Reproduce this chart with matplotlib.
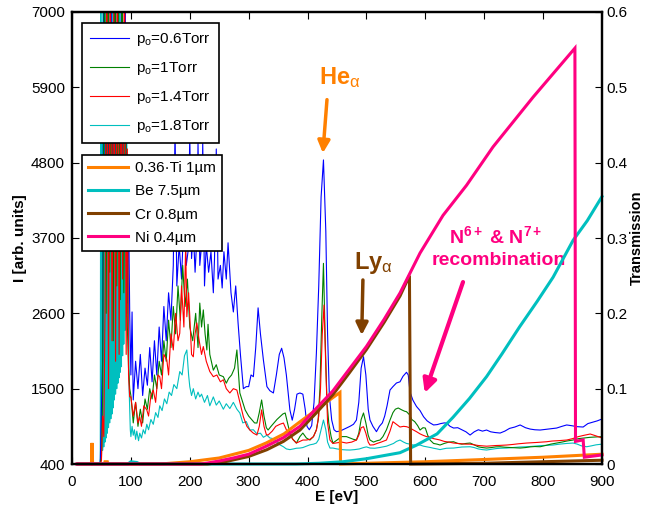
import numpy as np
import matplotlib
matplotlib.use('Agg')
import matplotlib.pyplot as plt
from matplotlib.lines import Line2D

plt.rcParams['font.family'] = ['Liberation Sans', 'DejaVu Sans']
plt.rcParams['mathtext.fontset'] = 'custom'
plt.rcParams['mathtext.rm'] = 'Liberation Sans'
plt.rcParams['mathtext.it'] = 'Liberation Sans:italic'
plt.rcParams['mathtext.bf'] = 'Liberation Sans:bold'

# spectra (E [eV], I [arb. units]); 8000 = off scale
spec_06 = [(44, 400), (48, 400), (50, 1200), (52, 1900), (54, 8000), (57, 3500), (60, 8000), (63, 4000),
           (66, 8000), (69, 3800), (72, 8000), (75, 4600), (78, 8000), (81, 3900), (84, 7500), (87, 4300),
           (90, 8000), (93, 2600), (96, 4200), (98, 2600), (100, 1700), (102, 2620), (104, 1335), (108, 1900),
           (112, 1500), (116, 2000), (120, 1400), (124, 1800), (128, 1550), (132, 2100), (136, 1600), (140, 2200),
           (144, 1700), (148, 2400), (152, 1900), (156, 2700), (160, 2200), (164, 2900), (168, 2500), (172, 3300),
           (175, 5300), (178, 3000), (182, 3600), (186, 3100), (190, 4000), (194, 3300), (197, 3500), (200, 5200),
           (203, 3400), (206, 3800), (209, 3200), (212, 3700), (214, 5100), (217, 3300), (220, 3600), (222, 5100),
           (225, 3000), (228, 3600), (232, 3200), (236, 3500), (240, 2900), (242, 3400), (245, 5000), (248, 3100),
           (252, 3300), (255, 2970), (258, 3500), (262, 3100), (265, 3630), (270, 2900), (274, 2620), (278, 3000),
           (282, 2460), (286, 2000), (291, 1500), (296, 1530), (300, 1530), (304, 1700), (308, 1675), (312, 2100),
           (316, 2680), (320, 2300), (325, 1920), (331, 1530), (336, 1470), (342, 1437), (347, 1700), (352, 2000),
           (356, 2090), (360, 1950), (364, 1700), (367, 1450), (370, 1190), (374, 1040), (378, 1200), (382, 1420),
           (387, 1437), (392, 1420), (396, 1200), (399, 950), (403, 900), (407, 960), (411, 1300), (415, 2020),
           (419, 3000), (423, 4300), (427, 4840), (431, 3800), (434, 2300), (437, 1400), (441, 1042), (445, 900),
           (449, 872), (455, 880), (460, 900), (466, 925), (472, 950), (478, 980), (483, 1042), (487, 1300),
           (491, 1800), (495, 1967), (499, 1700), (503, 1200), (506, 1042), (511, 950), (517, 872), (522, 950),
           (527, 1000), (531, 1100), (535, 1250), (540, 1480), (545, 1530), (551, 1583), (557, 1600), (562, 1680),
           (568, 1739), (571, 1700), (574, 1450), (579, 1330), (585, 1240), (591, 1180), (597, 1090), (603, 1030),
           (608, 1000), (614, 970), (620, 975), (626, 990), (632, 1000), (636, 998), (642, 950), (648, 925),
           (655, 930), (662, 900), (669, 870), (676, 823), (683, 870), (690, 900), (697, 880), (704, 896),
           (711, 870), (718, 860), (727, 852), (735, 880), (743, 920), (752, 940), (761, 970), (770, 930),
           (778, 910), (786, 900), (795, 896), (804, 905), (813, 915), (823, 925), (832, 950), (840, 970),
           (848, 960), (858, 945), (868, 940), (876, 990), (884, 1010), (892, 1030), (900, 1057)]

spec_10 = [(44, 400), (48, 400), (50, 500), (52, 1400), (55, 8000), (58, 2600), (61, 8000), (64, 3200),
           (67, 6500), (70, 2200), (73, 8000), (76, 3000), (79, 7000), (82, 2800), (85, 8000), (88, 2900),
           (91, 6000), (94, 2400), (96, 1800), (98, 1500), (100, 1400), (104, 1000), (108, 1300), (112, 950),
           (116, 1200), (120, 1000), (124, 1350), (128, 1200), (132, 1500), (136, 1350), (140, 1700), (144, 1500),
           (148, 1900), (152, 1700), (156, 2200), (160, 1900), (164, 2500), (168, 2100), (172, 2700), (176, 2300),
           (180, 3000), (184, 2500), (188, 3300), (192, 2700), (196, 3100), (200, 2400), (205, 2200), (210, 2600),
           (214, 2100), (217, 2750), (220, 2400), (223, 2650), (226, 2300), (229, 2065), (231, 2440), (234, 2000),
           (240, 1770), (245, 1850), (250, 1700), (257, 1675), (262, 1580), (266, 1650), (271, 1700), (276, 1800),
           (280, 2065), (285, 1437), (290, 1300), (294, 1190), (300, 1100), (305, 1050), (310, 1000), (314, 998),
           (318, 1150), (322, 1335), (326, 1100), (330, 930), (333, 896), (338, 950), (343, 1000), (348, 1050),
           (353, 1090), (358, 1130), (362, 1145), (366, 1000), (370, 852), (375, 760), (381, 706), (387, 800),
           (392, 852), (398, 780), (404, 750), (410, 800), (415, 900), (418, 1042), (421, 1500), (424, 2500),
           (427, 3330), (430, 2200), (433, 1300), (436, 1000), (440, 800), (443, 706), (450, 750), (458, 800),
           (466, 800), (472, 780), (478, 760), (483, 750), (487, 850), (491, 1050), (495, 1145), (499, 1000),
           (503, 820), (506, 750), (512, 720), (518, 740), (523, 750), (528, 800), (534, 900), (540, 1042),
           (545, 1150), (549, 1200), (554, 1218), (560, 1190), (565, 1170), (568, 1164), (573, 1120), (577, 1050),
           (582, 1018), (587, 960), (591, 896), (596, 930), (600, 925), (604, 820), (608, 750), (614, 700),
           (620, 690), (625, 677), (632, 700), (640, 720), (648, 725), (655, 700), (662, 690), (669, 700),
           (676, 706), (683, 680), (690, 650), (697, 640), (704, 633), (712, 640), (720, 650), (727, 652),
           (735, 645), (745, 640), (752, 635), (761, 633), (770, 640), (778, 650), (786, 655), (795, 652),
           (804, 670), (813, 690), (823, 706), (832, 720), (840, 735), (851, 750), (860, 770), (870, 780),
           (880, 790), (890, 795), (900, 800)]

spec_14 = [(44, 400), (48, 400), (50, 450), (52, 1100), (54, 800), (56, 2600), (59, 8000), (62, 1500),
           (65, 8000), (68, 2200), (71, 7000), (74, 1900), (77, 8000), (80, 2000), (83, 6500), (86, 3100),
           (89, 8000), (92, 2000), (94, 5000), (96, 1700), (98, 1380), (100, 1380), (104, 1100), (108, 1300),
           (112, 1000), (115, 1090), (118, 950), (122, 1250), (127, 1190), (130, 1100), (134, 1400), (138, 1480),
           (142, 1300), (146, 1700), (149, 1675), (152, 1500), (156, 2000), (161, 1920), (164, 1700), (168, 2300),
           (172, 2065), (176, 2600), (180, 2200), (183, 2310), (186, 3000), (190, 2400), (193, 3600), (195, 2550),
           (198, 2900), (200, 2560), (203, 2000), (206, 1965), (209, 2300), (212, 2460), (216, 2200), (220, 2000),
           (223, 2115), (228, 1900), (234, 1750), (240, 1675), (246, 1700), (252, 1600), (257, 1630), (262, 1500),
           (268, 1437), (274, 1500), (280, 1480), (285, 1300), (291, 1090), (297, 950), (302, 896), (308, 850),
           (314, 823), (318, 950), (322, 1190), (326, 950), (330, 830), (333, 823), (340, 880), (346, 950),
           (353, 980), (359, 998), (364, 900), (370, 823), (375, 760), (381, 706), (387, 730), (392, 750),
           (398, 750), (404, 760), (410, 800), (415, 896), (419, 1100), (422, 1500), (425, 2300), (428, 2721),
           (431, 1800), (434, 1000), (438, 750), (443, 700), (450, 710), (458, 720), (466, 706), (475, 720),
           (483, 750), (487, 820), (491, 930), (495, 945), (499, 850), (503, 720), (506, 677), (512, 680),
           (518, 700), (525, 720), (534, 750), (540, 880), (545, 1018), (551, 980), (557, 940), (563, 950),
           (568, 945), (573, 930), (579, 900), (585, 872), (591, 840), (596, 820), (602, 800), (608, 790),
           (614, 770), (620, 760), (625, 750), (632, 730), (640, 720), (648, 706), (655, 700), (662, 695),
           (669, 690), (676, 690), (683, 680), (690, 670), (697, 665), (704, 660), (712, 665), (720, 670),
           (727, 672), (738, 677), (748, 685), (758, 695), (772, 706), (780, 710), (790, 715), (806, 725),
           (815, 735), (825, 740), (840, 750), (850, 770), (860, 800), (870, 820), (880, 838), (890, 810),
           (900, 780)]

spec_18 = [(44, 400), (47, 400), (48, 480), (49, 8000), (50, 550), (51, 6000), (52, 600), (53, 8000),
           (54, 650), (55, 7000), (56, 720), (57, 8000), (58, 780), (59, 5500), (60, 850), (61, 8000),
           (62, 930), (63, 6500), (64, 1000), (65, 8000), (66, 1060), (67, 7200), (68, 1130), (69, 8000),
           (70, 1220), (71, 5000), (72, 1335), (73, 8000), (74, 1420), (75, 6000), (76, 1500), (77, 8000),
           (78, 1580), (79, 4500), (80, 1660), (81, 8000), (82, 1740), (83, 5200), (84, 1820), (85, 7500),
           (86, 1980), (87, 4800), (88, 2150), (89, 6500), (90, 2350), (91, 4200), (92, 2550), (93, 5500),
           (94, 2750), (95, 3800), (96, 2900), (97, 1500), (99, 900), (100, 800), (102, 950), (104, 820),
           (106, 900), (108, 760), (110, 880), (113, 740), (115, 850), (118, 780), (121, 900), (124, 840),
           (127, 980), (130, 900), (134, 1050), (138, 980), (142, 1150), (146, 1080), (149, 1250), (153, 1180),
           (157, 1350), (161, 1280), (165, 1450), (169, 1400), (173, 1560), (178, 1500), (183, 1750), (187, 1700),
           (191, 1980), (195, 2065), (198, 1700), (200, 1530), (203, 1400), (206, 1500), (210, 1350), (214, 1450),
           (217, 1380), (220, 1420), (225, 1300), (230, 1400), (234, 1250), (240, 1380), (245, 1260), (250, 1320),
           (257, 1200), (262, 1280), (268, 1210), (274, 1300), (280, 1200), (285, 1145), (290, 1000), (296, 1020),
           (302, 896), (308, 900), (314, 840), (320, 850), (325, 790), (331, 820), (336, 780), (342, 770),
           (348, 720), (353, 680), (359, 652), (364, 620), (370, 610), (376, 620), (381, 630), (387, 633),
           (392, 640), (398, 660), (404, 680), (410, 690), (415, 706), (419, 760), (423, 900), (427, 1042),
           (431, 900), (434, 720), (438, 633), (443, 633), (450, 620), (458, 610), (466, 605), (472, 604),
           (480, 610), (488, 620), (495, 640), (500, 650), (506, 633), (514, 630), (522, 640), (528, 650),
           (534, 660), (540, 680), (546, 700), (551, 730), (557, 750), (563, 720), (568, 700), (574, 690),
           (579, 677), (585, 680), (591, 677), (597, 660), (603, 650), (609, 640), (614, 630), (620, 620),
           (625, 610), (630, 620), (636, 630), (642, 632), (648, 633), (655, 640), (662, 648), (669, 650),
           (676, 652), (683, 640), (690, 620), (697, 610), (704, 604), (712, 615), (720, 625), (727, 630),
           (738, 633), (748, 640), (760, 648), (772, 652), (785, 660), (795, 668), (805, 672), (817, 677),
           (828, 690), (840, 700), (851, 706), (858, 690), (865, 665), (874, 652), (882, 665), (890, 680),
           (900, 690)]

# filter transmission curves (E [eV], T)
trans_ti = [(10, 0), (33, 0), (34, 0.028), (35, 0), (55, 0), (56, 0.003), (60, 0.003), (61, 0),
            (150, 0), (200, 0.003), (250, 0.008), (300, 0.018), (330, 0.028), (360, 0.040), (387, 0.056),
            (420, 0.075), (455, 0.095), (456, 0), (500, 0.001), (600, 0.003), (700, 0.006), (800, 0.009),
            (900, 0.013)]
trans_be = [(10, 0), (95, 0), (100, 0.003), (110, 0.002), (115, 0), (380, 0), (420, 0.001), (460, 0.003),
            (500, 0.007), (557, 0.015), (585, 0.025), (620, 0.04), (647, 0.062), (675, 0.087), (704, 0.116),
            (730, 0.146), (760, 0.182), (790, 0.216), (817, 0.248), (851, 0.297), (875, 0.323), (900, 0.355)]
trans_cr = [(10, 0), (230, 0), (260, 0.003), (300, 0.010), (331, 0.019), (359, 0.030), (387, 0.045),
            (415, 0.068), (443, 0.092), (470, 0.12), (500, 0.152), (530, 0.188), (557, 0.223), (573, 0.25),
            (575, 0), (700, 0.001), (800, 0.003), (900, 0.005)]
trans_ni = [(8, 0), (220, 0), (250, 0.004), (274, 0.008), (300, 0.013), (331, 0.024), (359, 0.035),
            (387, 0.05), (415, 0.074), (443, 0.097), (470, 0.125), (500, 0.156), (530, 0.192), (557, 0.227),
            (591, 0.28), (630, 0.33), (670, 0.37), (715, 0.421), (783, 0.487), (854, 0.552), (855, 0.030),
            (868, 0.032), (870, 0.009), (900, 0.012)]

spec_labels = [r'p$_\mathrm{o}$=0.6Torr', r'p$_\mathrm{o}$=1Torr', r'p$_\mathrm{o}$=1.4Torr',
               r'p$_\mathrm{o}$=1.8Torr']
filter_labels = ['0.36\u00b7Ti 1\u00b5m', 'Be 7.5\u00b5m', 'Cr 0.8\u00b5m', 'Ni 0.4\u00b5m']

BLUE, GREEN, RED, CYAN = '#0000ff', '#008000', '#ff0000', '#00bfbf'
ORANGE, BROWN, MAGENTA = '#ff8000', '#804000', '#ff0080'

fig = plt.figure(figsize=(6.48, 5.09), dpi=100)
ax = fig.add_axes([72 / 648, 45 / 509, 530 / 648, 452 / 509])
ax2 = ax.twinx()

spectra = [spec_06, spec_10, spec_14, spec_18]
spec_colors = [BLUE, GREEN, RED, CYAN]
draw_order = [3, 0, 1, 2]
for k in draw_order:
    e, i = np.array(spectra[k]).T
    ax.plot(e, i, color=spec_colors[k], lw=0.8)

filters = [trans_ti, trans_be, trans_cr, trans_ni]
filt_colors = [ORANGE, CYAN, BROWN, MAGENTA]
for tr, c in zip(filters, filt_colors):
    e, t = np.array(tr).T
    ax2.plot(e, t, color=c, lw=2.2, clip_on=False, solid_joinstyle='miter')

ax.set_xlim(0, 900)
ax.set_ylim(400, 7000)
ax2.set_ylim(0, 0.6)
ax.set_xticks(range(0, 901, 100))
ax.set_yticks([400, 1500, 2600, 3700, 4800, 5900, 7000])
ax2.set_yticks([0, 0.1, 0.2, 0.3, 0.4, 0.5, 0.6])
ax2.set_yticklabels(['0', '0.1', '0.2', '0.3', '0.4', '0.5', '0.6'])

for a in (ax, ax2):
    a.tick_params(direction='in', length=5, width=0.8, labelsize=11, colors='black')
    for s in a.spines.values():
        s.set_linewidth(1.6)
ax.tick_params(top=True)
ax.tick_params(axis='x', pad=8)
ax.tick_params(axis='y', pad=5)
ax2.tick_params(pad=3)

ax.set_xlabel('E [eV]', fontsize=11, fontweight='bold', labelpad=1)
ax.set_ylabel('I [arb. units]', fontsize=11, fontweight='bold', labelpad=3)
ax2.set_ylabel('Transmission', fontsize=10.5, fontweight='bold', labelpad=2)

# legends
h1 = [Line2D([], [], color=c, lw=0.8) for c in spec_colors]
h2 = [Line2D([], [], color=c, lw=2.2) for c in filt_colors]
leg1 = ax2.legend(h1, spec_labels, loc='upper left', bbox_to_anchor=(0.019, 0.976), fontsize=11,
                  frameon=True, fancybox=False, framealpha=1, edgecolor='black', borderaxespad=0,
                  handlelength=2.5, handletextpad=0.45, labelspacing=0.78, borderpad=0.55)
leg1.get_frame().set_linewidth(1.2)
ax2.add_artist(leg1)
leg2 = ax2.legend(h2, filter_labels, loc='upper left', bbox_to_anchor=(0.019, 0.684), fontsize=11,
                  frameon=True, fancybox=False, framealpha=1, edgecolor='black', borderaxespad=0,
                  handlelength=2.6, handletextpad=0.45, labelspacing=0.6, borderpad=0.42)
leg2.get_frame().set_linewidth(1.2)

# annotations
ax.text(455, 6050, r'He$_\mathrm{\alpha}$', color=ORANGE, fontsize=17, fontweight='bold',
        ha='center', va='center')
ax.annotate('', xy=(426, 4940), xytext=(433, 5720),
            arrowprops=dict(arrowstyle='-|>', color=ORANGE, lw=2.5, mutation_scale=18,
                            shrinkA=0, shrinkB=0))
ax.text(512, 3330, r'Ly$_\mathrm{\alpha}$', color=BROWN, fontsize=17, fontweight='bold',
        ha='center', va='center')
ax.annotate('', xy=(492, 2283), xytext=(494, 3087),
            arrowprops=dict(arrowstyle='-|>', color=BROWN, lw=2.5, mutation_scale=18,
                            shrinkA=0, shrinkB=0))
ax.text(720, 3720, r'N$^{\mathbf{6+}}$ & N$^{\mathbf{7+}}$', color=MAGENTA, fontsize=14,
        fontweight='bold', ha='center', va='center')
ax.text(725, 3370, 'recombination', color=MAGENTA, fontsize=14, fontweight='bold',
        ha='center', va='center')
ax.annotate('', xy=(599, 1437), xytext=(664, 3057),
            arrowprops=dict(arrowstyle='-|>', color=MAGENTA, lw=3, mutation_scale=20,
                            shrinkA=0, shrinkB=0))

fig.savefig('out.png', dpi=100)
